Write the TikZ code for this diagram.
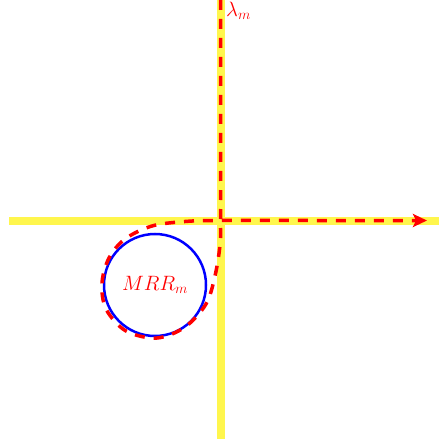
\documentclass[tikz,border=0pt]{standalone}
\usetikzlibrary{arrows.meta}
\begin{document}
\begin{tikzpicture}[x=1pt,y=-1pt,
  axis/.style={draw=yellow!70,line width=8pt},
  route/.style={draw=red,line width=3.5pt,dash pattern=on 10pt off 9pt},
  lbl/.style={text=red,font=\fontsize{20}{24}\selectfont,inner sep=0pt}]
\useasboundingbox (0,0) rectangle (439,446);
\coordinate (hL) at (9,220.5);
\coordinate (hR) at (439,220.5);
\coordinate (vT) at (220.5,0);
\coordinate (vB) at (220.5,439);
\draw[axis] (hL) -- (hR);
\draw[axis] (vT) -- (vB);
\node[draw=blue,line width=2.5pt,circle,minimum size=102pt,inner sep=0pt] (mrr) at (155,285) {};
\node[lbl] (mrrl) at (155,285) {$MRR_m$};
\node[lbl,font=\fontsize{22}{26}\selectfont,anchor=north west] (lam) at (226,1.5) {$\lambda_m$};
\draw[route,-{Stealth[length=14pt,width=13pt,inset=3pt]}] plot[smooth,tension=0.55] coordinates {
 (220.5,0) (220.5,110) (220.5,220) (220,245) (215,276) (206,304) (185,327) (157,338)
 (126,331) (106,309) (102,283) (109,258) (125,239) (152,226) (185,221.5) (220.5,220.5) (320,220.5) (427,220.5)};
\end{tikzpicture}
\end{document}
